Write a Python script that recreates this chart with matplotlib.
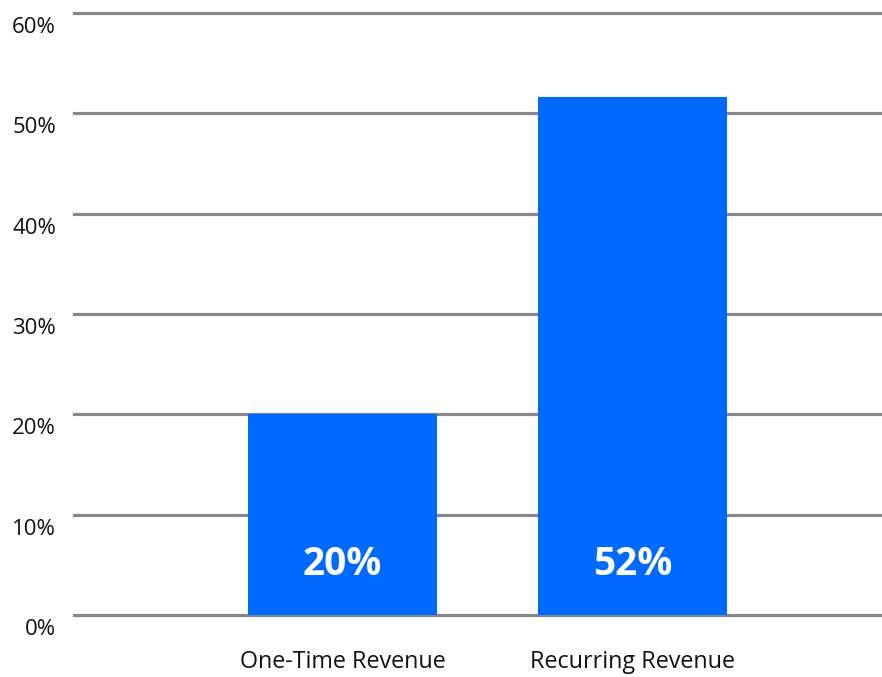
import matplotlib
matplotlib.use("Agg")
import matplotlib.pyplot as plt
import matplotlib.transforms as mtransforms

categories = ["One-Time Revenue", "Recurring Revenue"]
values = [20, 51.6]
value_labels = ["20%", "52%"]
y_ticks = [0, 10, 20, 30, 40, 50, 60]
y_tick_labels = ["0%", "10%", "20%", "30%", "40%", "50%", "60%"]

plt.rcParams['font.family'] = ['Open Sans', 'DejaVu Sans']

W, H = 882, 677
fig = plt.figure(figsize=(W / 100, H / 100), dpi=100)
left, right, top, bottom = 74, 882, 13, 615
ax = fig.add_axes([left / W, 1 - bottom / H, (right - left) / W, (bottom - top) / H])

x = list(range(len(categories)))
ax.bar(x, values, width=0.652, color='#006AFF', zorder=3)
for xi, v, lab in zip(x, values, value_labels):
    ax.text(xi, 5, lab, ha='center', va='center', color='white',
            fontsize=28, fontweight='bold', zorder=4)

ax.set_xlim(-0.926, 1.86)
ax.set_ylim(0, 60)
ax.set_yticks(y_ticks)
ax.set_yticklabels(y_tick_labels, fontsize=16, color='#111111')
ax.set_xticks(x)
ax.set_xticklabels(categories, fontsize=16.8, color='#111111')

ax.yaxis.grid(True, color='#878787', linewidth=2.3, zorder=0)
for gl in ax.yaxis.get_gridlines():
    gl.set_clip_on(False)
ax.set_axisbelow(True)
for s in ax.spines.values():
    s.set_visible(False)
ax.tick_params(axis='y', length=0, pad=13)
ax.tick_params(axis='x', length=0, pad=25)

offset = mtransforms.ScaledTranslation(0, -12 / 100, fig.dpi_scale_trans)
for lbl in ax.get_yticklabels():
    lbl.set_transform(lbl.get_transform() + offset)

fig.savefig("out.png", dpi=100)
